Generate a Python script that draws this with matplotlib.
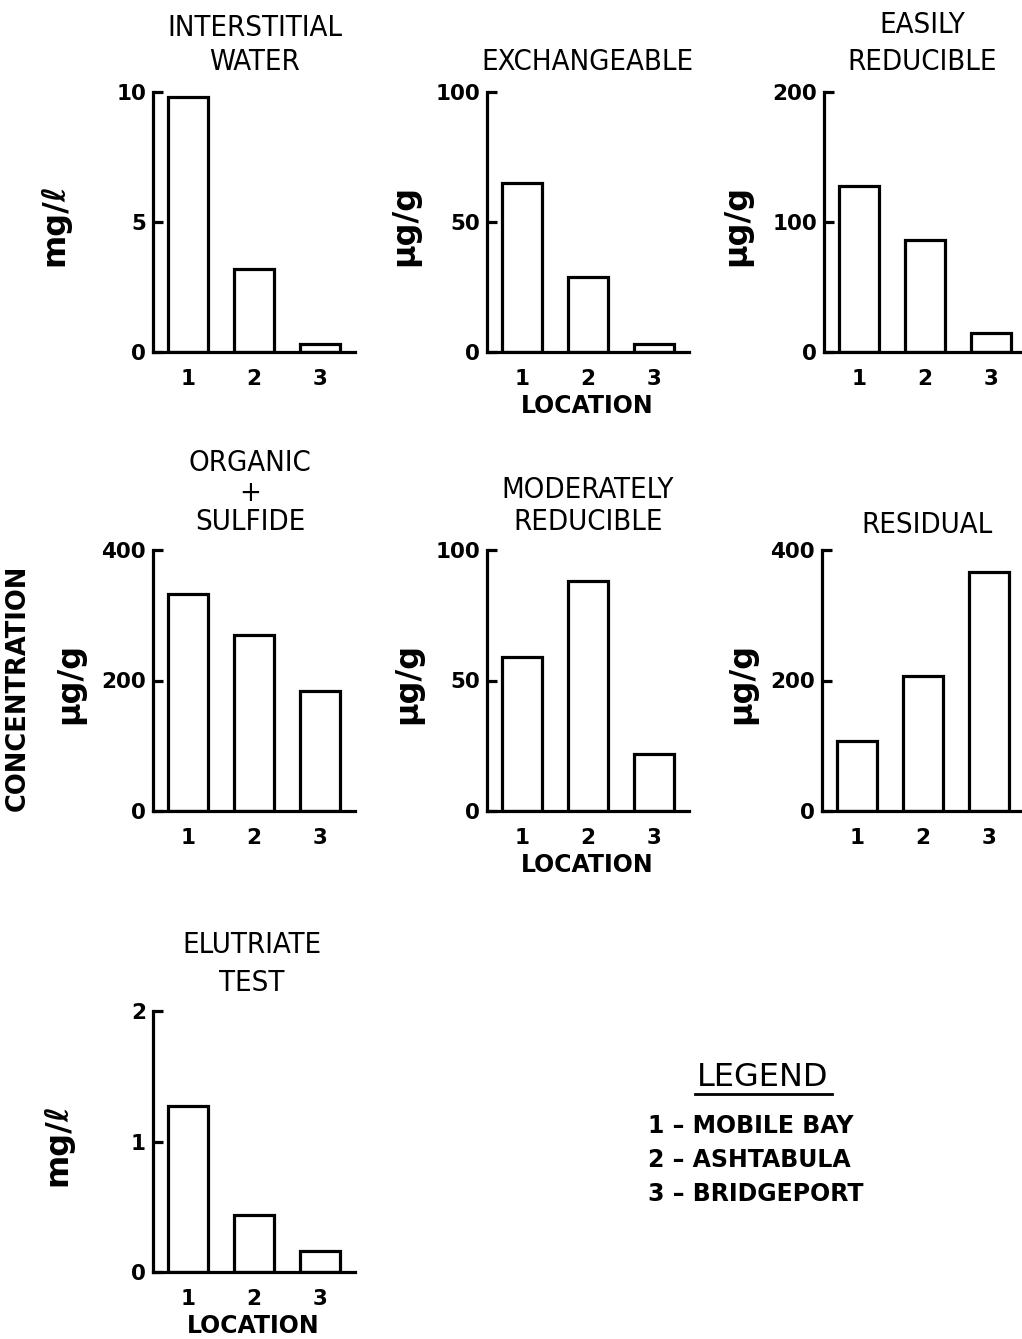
import matplotlib
matplotlib.use("Agg")
import matplotlib.pyplot as plt
from matplotlib import font_manager

W, H = 1022, 1339
DPI = 100

locations = [1, 2, 3]
loc_labels = ["1", "2", "3"]

interstitial = [9.8, 3.2, 0.3]
exchangeable = [65, 29, 3]
easily_reducible = [128, 86, 15]
organic_sulfide = [332, 270, 184]
moderately_reducible = [59, 88, 22]
residual = [107, 207, 366]
elutriate = [1.27, 0.44, 0.16]

legend_lines = ["1 \u2013 MOBILE BAY", "2 \u2013 ASHTABULA", "3 \u2013 BRIDGEPORT"]

names = sorted({f.name + "|" + str(f.stretch) for f in font_manager.fontManager.ttflist})
print(names)

fig = plt.figure(figsize=(W / DPI, H / DPI), dpi=DPI)
fig.patch.set_facecolor("white")

def fx(x):
    return x / W

def fy(y):
    return 1 - y / H

LW = 2.3
TITLE_FONT = dict(family="DejaVu Sans", fontstretch="condensed", fontsize=21,
                  color="black")
TICK_FONT = dict(family="DejaVu Sans", fontsize=15.5, fontweight="bold")
LABEL_FONT = dict(family="DejaVu Sans", fontsize=23, fontweight="bold")

panels = [
    (interstitial, 10, [0, 5, 10], ["0", "5", "10"], 153, 352, 92,
     ["INTERSTITIAL", "WATER"], [28, 62], 255, "mg/\u2113", 55, False),
    (exchangeable, 100, [0, 50, 100], ["0", "50", "100"], 487, 352, 92,
     ["EXCHANGEABLE"], [62], 587, "\u03bcg/g", 405, True),
    (easily_reducible, 200, [0, 100, 200], ["0", "100", "200"], 824, 352, 92,
     ["EASILY", "REDUCIBLE"], [25, 62], 922, "\u03bcg/g", 737, False),
    (organic_sulfide, 400, [0, 200, 400], ["0", "200", "400"], 153, 811, 550,
     ["ORGANIC", "+", "SULFIDE"], [463, 493, 522], 250, "\u03bcg/g", 70, False),
    (moderately_reducible, 100, [0, 50, 100], ["0", "50", "100"], 487, 811, 550,
     ["MODERATELY", "REDUCIBLE"], [490, 522], 588, "\u03bcg/g", 408, True),
    (residual, 400, [0, 200, 400], ["0", "200", "400"], 822, 811, 550,
     ["RESIDUAL"], [525], 927, "\u03bcg/g", 742, False),
    (elutriate, 2, [0, 1, 2], ["0", "1", "2"], 153, 1272, 1011,
     ["ELUTRIATE", "TEST"], [945, 983], 252, "mg/\u2113", 58, True),
]

AX_W = 202
for (vals, ymax, yt, ytl, axx, y0, ytop, tlines, tys, tcx, unit, ux, showloc) in panels:
    ax = fig.add_axes([fx(axx), fy(y0), AX_W / W, (y0 - ytop) / H])
    ax.bar(locations, vals, width=0.62, facecolor="white", edgecolor="black",
           linewidth=LW, zorder=3)
    ax.set_xlim(0.47, 3.53)
    ax.set_ylim(0, ymax)
    ax.set_yticks(yt)
    ax.set_yticklabels(ytl, **TICK_FONT)
    ax.set_xticks(locations)
    ax.set_xticklabels(loc_labels, **TICK_FONT)
    ax.tick_params(axis="y", direction="in", length=7, width=LW, pad=5)
    ax.tick_params(axis="x", length=0, pad=12)
    for s in ["top", "right"]:
        ax.spines[s].set_visible(False)
    for s in ["left", "bottom"]:
        ax.spines[s].set_linewidth(LW)
    ax.spines["bottom"].set_zorder(4)
    ax.set_facecolor("none")
    for line, ty in zip(tlines, tys):
        fig.text(fx(tcx), fy(ty), line, ha="center", va="center", **TITLE_FONT)
    fig.text(fx(ux), fy((y0 + ytop) / 2 + 3), unit, rotation=90, ha="center",
             va="center", **LABEL_FONT)
    if showloc:
        fig.text(fx(axx + 100), fy(y0 + 54), "LOCATION", ha="center", va="center",
                 family="DejaVu Sans", fontsize=17, fontweight="bold")

fig.text(fx(18), fy(688), "CONCENTRATION", rotation=90, ha="center", va="center",
         family="DejaVu Sans", fontsize=18.5, fontweight="bold")

fig.text(fx(763), fy(1078), "LEGEND", ha="center", va="center",
         family="DejaVu Sans", fontsize=23)
fig.add_artist(plt.Line2D([fx(695), fx(832)], [fy(1094), fy(1094)],
                          color="black", linewidth=2))
for i, t in enumerate(legend_lines):
    fig.text(fx(648), fy(1126 + 34 * i), t, ha="left", va="center",
             family="DejaVu Sans", fontsize=17, fontweight="bold")

fig.savefig("out.png", dpi=DPI, facecolor="white")
